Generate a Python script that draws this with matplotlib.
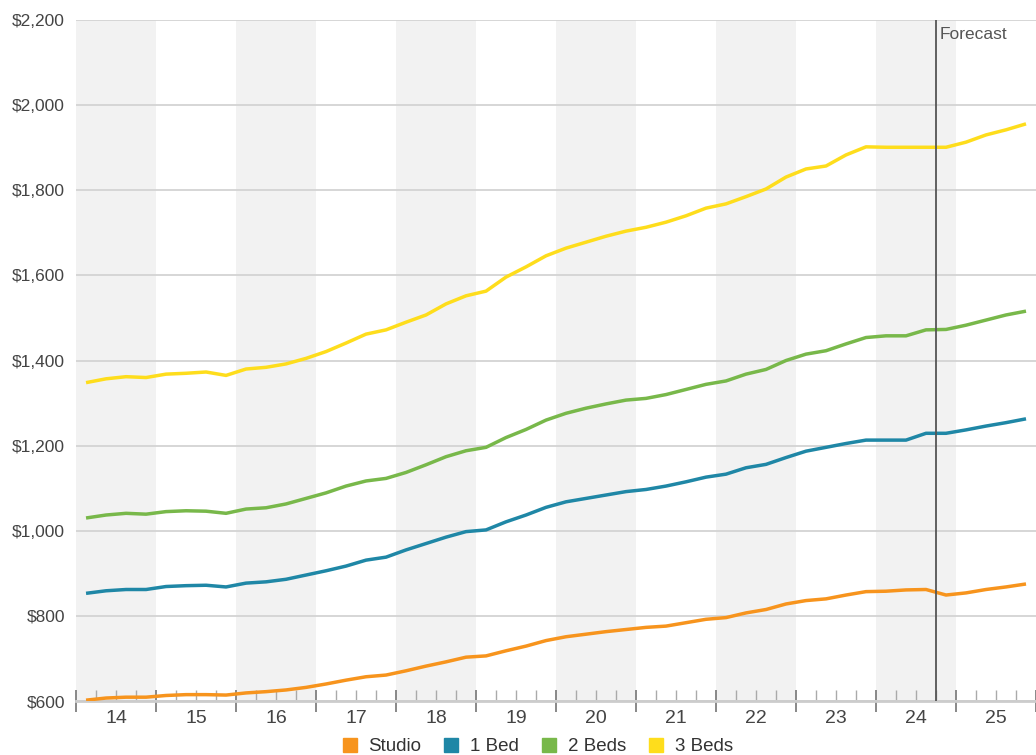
import matplotlib.pyplot as plt
from matplotlib.lines import Line2D
from matplotlib.ticker import FuncFormatter, MultipleLocator
import numpy as np

plt.rcParams['font.family'] = ['Liberation Sans', 'DejaVu Sans']

# quarterly average rents, 2014 Q1 .. 2025 Q4
studio = [602, 607, 609, 609, 613, 615, 615, 614, 619, 622, 626, 632,
          640, 649, 657, 661, 671, 682, 692, 703, 706, 718, 729, 742,
          751, 757, 763, 768, 773, 776, 784, 792, 796, 807, 815, 828,
          836, 840, 849, 857, 858, 861, 862, 849, 854, 862, 868, 875]
one_bed = [853, 859, 862, 862, 869, 871, 872, 868, 877, 880, 886, 896,
           906, 917, 931, 938, 955, 970, 985, 998, 1002, 1021, 1037, 1055,
           1068, 1076, 1084, 1092, 1097, 1105, 1115, 1126, 1133, 1148, 1156, 1172,
           1187, 1196, 1205, 1213, 1213, 1213, 1229, 1229, 1237, 1246, 1254, 1263]
two_beds = [1030, 1037, 1041, 1039, 1045, 1047, 1046, 1041, 1051, 1054, 1063, 1076,
            1089, 1105, 1117, 1123, 1137, 1155, 1174, 1188, 1196, 1219, 1238, 1260,
            1276, 1288, 1298, 1307, 1311, 1320, 1332, 1344, 1352, 1368, 1379, 1400,
            1415, 1423, 1439, 1454, 1458, 1458, 1472, 1473, 1483, 1495, 1507, 1516]
three_beds = [1348, 1357, 1362, 1360, 1368, 1370, 1373, 1365, 1380, 1384, 1392, 1405,
              1421, 1441, 1462, 1472, 1490, 1507, 1533, 1552, 1563, 1596, 1620, 1646,
              1664, 1678, 1692, 1704, 1713, 1725, 1740, 1758, 1768, 1785, 1803, 1831,
              1850, 1857, 1883, 1902, 1901, 1901, 1901, 1901, 1913, 1930, 1942, 1956]

years = list(range(14, 26))
series_names = ["Studio", "1 Bed", "2 Beds", "3 Beds"]
colors = ["#f7941d", "#1f87a6", "#78b84a", "#fedd1c"]
forecast_at = 24.25

# one point per quarter, centred inside its quarter
x = np.arange(len(studio)) * 0.25 + years[0] - 0.375

fig = plt.figure(figsize=(10.36, 7.55), dpi=100)
ax = fig.add_axes([0.0734, 0.0715, 0.9266, 0.902])

for y in years[::2]:
    ax.axvspan(y - 0.5, y + 0.5, color="#f2f2f2", lw=0, zorder=0)

for vals, c in zip([studio, one_bed, two_beds, three_beds], colors):
    ax.plot(x, vals, color=c, lw=2.5, solid_joinstyle="round",
            solid_capstyle="butt", zorder=3)

ax.axvline(forecast_at, color="#555555", lw=1.3, zorder=4)
ax.text(forecast_at + 0.04, 2167, "Forecast", ha="left", va="center",
        fontsize=12.5, color="#555555")

ax.set_xlim(years[0] - 0.5, years[-1] + 0.5)
ax.set_ylim(600, 2200)
ax.yaxis.set_major_locator(MultipleLocator(200))
ax.yaxis.set_major_formatter(FuncFormatter(lambda v, p: f"${v:,.0f}"))
ax.grid(axis="y", color="#d6d6d6", lw=1.4, zorder=1)
ax.set_axisbelow(True)

ax.set_xticks([y - 0.5 for y in years] + [years[-1] + 0.5])
ax.set_xticks(np.arange(years[0] - 0.5, years[-1] + 0.5, 0.25), minor=True)
ax.set_xticklabels([])
for y in years:
    ax.text(y, 558, str(y), ha="center", va="center", fontsize=14, color="#444444")

ax.tick_params(axis="x", which="major", direction="inout", length=16,
               width=1.4, color="#888888")
ax.tick_params(axis="x", which="minor", direction="in", length=8,
               width=1, color="#aaaaaa")
ax.tick_params(axis="y", length=0, labelsize=12.5, labelcolor="#444444", pad=8)

for s in ["top", "right", "left"]:
    ax.spines[s].set_visible(False)
ax.spines["bottom"].set_color("#cccccc")
ax.spines["bottom"].set_linewidth(2)

handles = [Line2D([], [], marker="s", ls="", markersize=10, color=c)
           for c in colors]
fig.legend(handles, series_names, loc="lower center", ncol=4,
           bbox_to_anchor=(0.518, -0.023), frameon=False, fontsize=13.5,
           handlelength=1.0, handletextpad=0.5, columnspacing=1.1,
           labelcolor="#333333")

fig.savefig("out.png", dpi=100)
